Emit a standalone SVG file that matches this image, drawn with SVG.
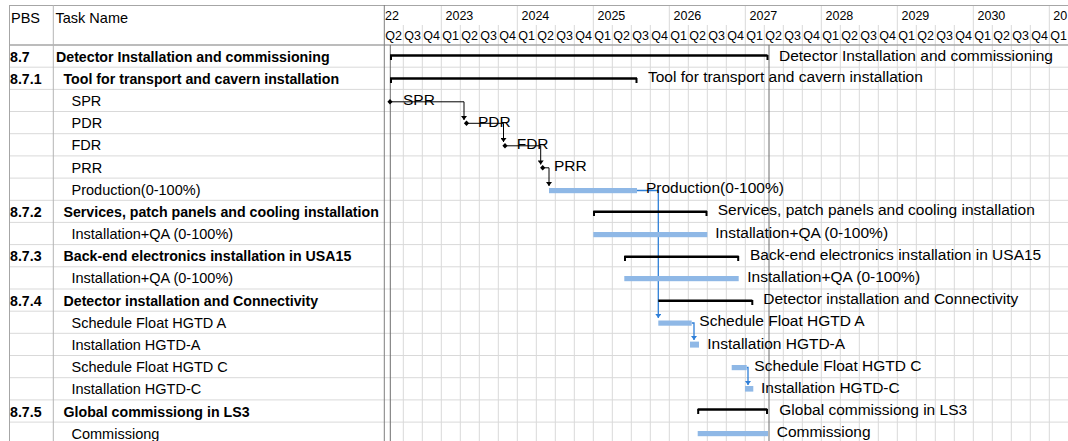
<svg xmlns="http://www.w3.org/2000/svg" width="1068" height="441" viewBox="0 0 1068 441">
<style>
.t{font-family:"Liberation Sans",Arial,sans-serif;font-size:14.5px;fill:#000}
.b{font-weight:bold;font-size:14.2px}
.h{font-family:"Liberation Sans",Arial,sans-serif;font-size:12.5px;fill:#000}
.lbl{font-family:"Liberation Sans",Arial,sans-serif;font-size:15.5px;fill:#000}
.grid{stroke:#d9d9d9;stroke-width:1}
.sum{stroke:#000;stroke-width:2.5;fill:none}
.tick{fill:#000}
.task{fill:#8fb8e6}
.ms{fill:#000}
.cb{stroke:#000;stroke-width:1;fill:none}
.cl{stroke:#2f7fd8;stroke-width:1.3;fill:none}
</style>
<defs>
<marker id="ab" markerWidth="6" markerHeight="6" refX="3" refY="5" orient="0" markerUnits="userSpaceOnUse">
<path d="M0,1 L6,1 L3,5 Z" fill="#000"/>
</marker>
<marker id="abl" markerWidth="6" markerHeight="6" refX="3" refY="5" orient="0" markerUnits="userSpaceOnUse">
<path d="M0,1 L6,1 L3,5 Z" fill="#2f7fd8"/>
</marker>
</defs>
<rect width="1068" height="441" fill="#fff"/>
<g id="grid">
<g class="grid">
<line x1="9" y1="67.2" x2="1068" y2="67.2"/>
<line x1="9" y1="89.4" x2="1068" y2="89.4"/>
<line x1="9" y1="111.5" x2="1068" y2="111.5"/>
<line x1="9" y1="133.7" x2="1068" y2="133.7"/>
<line x1="9" y1="155.9" x2="1068" y2="155.9"/>
<line x1="9" y1="178.1" x2="1068" y2="178.1"/>
<line x1="9" y1="200.3" x2="1068" y2="200.3"/>
<line x1="9" y1="222.4" x2="1068" y2="222.4"/>
<line x1="9" y1="244.6" x2="1068" y2="244.6"/>
<line x1="9" y1="266.8" x2="1068" y2="266.8"/>
<line x1="9" y1="289" x2="1068" y2="289"/>
<line x1="9" y1="311.2" x2="1068" y2="311.2"/>
<line x1="9" y1="333.3" x2="1068" y2="333.3"/>
<line x1="9" y1="355.5" x2="1068" y2="355.5"/>
<line x1="9" y1="377.7" x2="1068" y2="377.7"/>
<line x1="9" y1="399.9" x2="1068" y2="399.9"/>
<line x1="9" y1="422.1" x2="1068" y2="422.1"/>
</g>
<g class="grid">
<line x1="403.3" y1="25" x2="403.3" y2="441"/>
<line x1="422.3" y1="25" x2="422.3" y2="441"/>
<line x1="441.3" y1="5" x2="441.3" y2="441"/>
<line x1="460.3" y1="25" x2="460.3" y2="441"/>
<line x1="479.3" y1="25" x2="479.3" y2="441"/>
<line x1="498.3" y1="25" x2="498.3" y2="441"/>
<line x1="517.3" y1="5" x2="517.3" y2="441"/>
<line x1="536.3" y1="25" x2="536.3" y2="441"/>
<line x1="555.3" y1="25" x2="555.3" y2="441"/>
<line x1="574.3" y1="25" x2="574.3" y2="441"/>
<line x1="593.3" y1="5" x2="593.3" y2="441"/>
<line x1="612.3" y1="25" x2="612.3" y2="441"/>
<line x1="631.3" y1="25" x2="631.3" y2="441"/>
<line x1="650.3" y1="25" x2="650.3" y2="441"/>
<line x1="669.3" y1="5" x2="669.3" y2="441"/>
<line x1="688.3" y1="25" x2="688.3" y2="441"/>
<line x1="707.3" y1="25" x2="707.3" y2="441"/>
<line x1="726.3" y1="25" x2="726.3" y2="441"/>
<line x1="745.3" y1="5" x2="745.3" y2="441"/>
<line x1="764.3" y1="25" x2="764.3" y2="441"/>
<line x1="783.3" y1="25" x2="783.3" y2="441"/>
<line x1="802.3" y1="25" x2="802.3" y2="441"/>
<line x1="821.3" y1="5" x2="821.3" y2="441"/>
<line x1="840.3" y1="25" x2="840.3" y2="441"/>
<line x1="859.3" y1="25" x2="859.3" y2="441"/>
<line x1="878.3" y1="25" x2="878.3" y2="441"/>
<line x1="897.3" y1="5" x2="897.3" y2="441"/>
<line x1="916.3" y1="25" x2="916.3" y2="441"/>
<line x1="935.3" y1="25" x2="935.3" y2="441"/>
<line x1="954.3" y1="25" x2="954.3" y2="441"/>
<line x1="973.3" y1="5" x2="973.3" y2="441"/>
<line x1="992.3" y1="25" x2="992.3" y2="441"/>
<line x1="1011.3" y1="25" x2="1011.3" y2="441"/>
<line x1="1030.3" y1="25" x2="1030.3" y2="441"/>
<line x1="1049.3" y1="5" x2="1049.3" y2="441"/>
</g>
<line x1="9" y1="5.5" x2="1068" y2="5.5" stroke="#a6a6a6"/>
<line x1="9" y1="45" x2="1068" y2="45" stroke="#a6a6a6" stroke-width="1.3"/>
<line x1="9.5" y1="5" x2="9.5" y2="441" stroke="#a6a6a6"/>
<line x1="53.3" y1="5" x2="53.3" y2="441" stroke="#b4b4b4"/>
<line x1="384.3" y1="5" x2="384.3" y2="441" stroke="#7f7f7f"/>
<line x1="390.3" y1="45" x2="390.3" y2="441" stroke="#6e6e6e"/>
<line x1="769" y1="45" x2="769" y2="441" stroke="#6e6e6e"/>
</g>
<g id="header">
<text class="t" x="11" y="22.5">PBS</text>
<text class="t" x="55.5" y="22.5">Task Name</text>
<text class="h" x="385" y="20">22</text>
<text class="h" x="445.5" y="20">2023</text>
<text class="h" x="521.5" y="20">2024</text>
<text class="h" x="597.5" y="20">2025</text>
<text class="h" x="673.5" y="20">2026</text>
<text class="h" x="749.5" y="20">2027</text>
<text class="h" x="825.5" y="20">2028</text>
<text class="h" x="901.5" y="20">2029</text>
<text class="h" x="977.5" y="20">2030</text>
<text class="h" x="1053.3" y="20">20</text>
<g class="h">
<text x="385.3" y="40">Q2</text><text x="404.3" y="40">Q3</text><text x="423.3" y="40">Q4</text>
<text x="442.3" y="40">Q1</text><text x="461.3" y="40">Q2</text><text x="480.3" y="40">Q3</text><text x="499.3" y="40">Q4</text>
<text x="518.3" y="40">Q1</text><text x="537.3" y="40">Q2</text><text x="556.3" y="40">Q3</text><text x="575.3" y="40">Q4</text>
<text x="594.3" y="40">Q1</text><text x="613.3" y="40">Q2</text><text x="632.3" y="40">Q3</text><text x="651.3" y="40">Q4</text>
<text x="670.3" y="40">Q1</text><text x="689.3" y="40">Q2</text><text x="708.3" y="40">Q3</text><text x="727.3" y="40">Q4</text>
<text x="746.3" y="40">Q1</text><text x="765.3" y="40">Q2</text><text x="784.3" y="40">Q3</text><text x="803.3" y="40">Q4</text>
<text x="822.3" y="40">Q1</text><text x="841.3" y="40">Q2</text><text x="860.3" y="40">Q3</text><text x="879.3" y="40">Q4</text>
<text x="898.3" y="40">Q1</text><text x="917.3" y="40">Q2</text><text x="936.3" y="40">Q3</text><text x="955.3" y="40">Q4</text>
<text x="974.3" y="40">Q1</text><text x="993.3" y="40">Q2</text><text x="1012.3" y="40">Q3</text><text x="1031.3" y="40">Q4</text>
<text x="1050.3" y="40">Q1</text>
</g>
</g>
<g id="connectors">
<path class="cb" d="M390,101.8 H464 V120" marker-end="url(#ab)"/>
<path class="cb" d="M466.5,123.3 H503.5 V142" marker-end="url(#ab)"/>
<path class="cb" d="M505,145.8 H540.7 V164.5" marker-end="url(#ab)"/>
<path class="cb" d="M542.7,167.8 H549 V186" marker-end="url(#ab)"/>
<path class="cl" d="M637,190.5 H658.3 V318" marker-end="url(#abl)"/>
<path class="cl" d="M691.7,323 H694 V340" marker-end="url(#abl)"/>
<path class="cl" d="M746.7,367.5 H748 V385" marker-end="url(#abl)"/>
</g>
<g id="row0">
<text class="t b" x="10" y="61.6">8.7</text>
<text class="t b" x="56" y="61.6">Detector Installation and commissioning</text>
<path class="sum" d="M390,55.5 H767.5" stroke="#333" stroke-width="2"/>
<rect class="tick" x="390" y="55" width="2" height="5"/><rect class="tick" x="766.5" y="55" width="2" height="5"/>
<text class="lbl" x="779" y="60.5">Detector Installation and commissioning</text>
</g>
<g id="row1">
<text class="t b" x="10" y="83.8">8.7.1</text>
<text class="t b" x="63.5" y="83.8">Tool for transport and cavern installation</text>
<path class="sum" d="M390,78.6 H637"/>
<rect class="tick" x="390" y="78" width="2" height="5"/><rect class="tick" x="635.5" y="78" width="2" height="5"/>
<text class="lbl" x="648" y="82.3">Tool for transport and cavern installation</text>
</g>
<g id="row2">
<text class="t" x="71.5" y="106">SPR</text>
<path class="ms" d="M390,99 L392.6,101.8 L390,104.6 L387.4,101.8 Z"/>
<text class="lbl" x="403" y="104.5">SPR</text>
</g>
<g id="row3">
<text class="t" x="71.5" y="128.1">PDR</text>
<path class="ms" d="M466.5,120.6 L469.1,123.3 L466.5,126 L463.9,123.3 Z"/>
<text class="lbl" x="478" y="126.6">PDR</text>
</g>
<g id="row4">
<text class="t" x="71.5" y="150.3">FDR</text>
<path class="ms" d="M505,143.1 L507.6,145.8 L505,148.5 L502.4,145.8 Z"/>
<text class="lbl" x="516.7" y="148.8">FDR</text>
</g>
<g id="row5">
<text class="t" x="71.5" y="172.5">PRR</text>
<path class="ms" d="M542.7,165.1 L545.3,167.8 L542.7,170.5 L540.1,167.8 Z"/>
<text class="lbl" x="554" y="171">PRR</text>
</g>
<g id="row6">
<text class="t" x="71.5" y="194.7">Production(0-100%)</text>
<rect class="task" x="549" y="188" width="88" height="5.2"/>
<text class="lbl" x="646" y="193.2">Production(0-100%)</text>
</g>
<g id="row7">
<text class="t b" x="10" y="216.9">8.7.2</text>
<text class="t b" x="63.5" y="216.9">Services, patch panels and cooling installation</text>
<path class="sum" d="M593.3,211.7 H707"/>
<rect class="tick" x="593" y="211" width="2" height="5"/><rect class="tick" x="705.5" y="211" width="2" height="5"/>
<text class="lbl" x="717.7" y="215.4">Services, patch panels and cooling installation</text>
</g>
<g id="row8">
<text class="t" x="71.5" y="239.1">Installation+QA (0-100%)</text>
<rect class="task" x="593.3" y="232" width="114" height="5.2"/>
<text class="lbl" x="715.3" y="237.6">Installation+QA (0-100%)</text>
</g>
<g id="row9">
<text class="t b" x="10" y="261.3">8.7.3</text>
<text class="t b" x="63.5" y="261.3">Back-end electronics installation in USA15</text>
<path class="sum" d="M624.3,256.7 H738.7"/>
<rect class="tick" x="624" y="256" width="2" height="5"/><rect class="tick" x="737.2" y="256" width="2" height="5"/>
<text class="lbl" x="750" y="259.8">Back-end electronics installation in USA15</text>
</g>
<g id="row10">
<text class="t" x="71.5" y="283.4">Installation+QA (0-100%)</text>
<rect class="task" x="624.3" y="276" width="114.4" height="5.2"/>
<text class="lbl" x="747.3" y="281.9">Installation+QA (0-100%)</text>
</g>
<g id="row11">
<text class="t b" x="10" y="305.6">8.7.4</text>
<text class="t b" x="63.5" y="305.6">Detector installation and Connectivity</text>
<path class="sum" d="M658.3,300.7 H752.3" stroke="#333" stroke-width="2"/>
<rect class="tick" x="751.3" y="300" width="2" height="5"/>
<text class="lbl" x="763.3" y="304.1">Detector installation and Connectivity</text>
</g>
<g id="row12">
<text class="t" x="71.5" y="327.8">Schedule Float HGTD A</text>
<rect class="task" x="658.3" y="320.5" width="33.4" height="5.2"/>
<text class="lbl" x="699.3" y="326.3">Schedule Float HGTD A</text>
</g>
<g id="row13">
<text class="t" x="71.5" y="350">Installation HGTD-A</text>
<rect class="task" x="690" y="341.6" width="9" height="6"/>
<text class="lbl" x="707.3" y="348.5">Installation HGTD-A</text>
</g>
<g id="row14">
<text class="t" x="71.5" y="372.2">Schedule Float HGTD C</text>
<rect class="task" x="731.7" y="365" width="15" height="5.2"/>
<text class="lbl" x="754.3" y="370.7">Schedule Float HGTD C</text>
</g>
<g id="row15">
<text class="t" x="71.5" y="394.3">Installation HGTD-C</text>
<rect class="task" x="745" y="386" width="8.3" height="5.6"/>
<text class="lbl" x="761" y="392.8">Installation HGTD-C</text>
</g>
<g id="row16">
<text class="t b" x="10" y="416.5">8.7.5</text>
<text class="t b" x="63.5" y="416.5">Global commissiong in LS3</text>
<path class="sum" d="M697.7,409.5 H767.3" stroke="#333" stroke-width="2"/>
<rect class="tick" x="697.2" y="409" width="2" height="5"/><rect class="tick" x="766" y="409" width="2" height="5"/>
<text class="lbl" x="779.3" y="415">Global commissiong in LS3</text>
</g>
<g id="row17">
<text class="t" x="71.5" y="438.7">Commissiong</text>
<rect class="task" x="697.7" y="431" width="70.3" height="5.2"/>
<text class="lbl" x="776.7" y="437.2">Commissiong</text>
</g>
</svg>
